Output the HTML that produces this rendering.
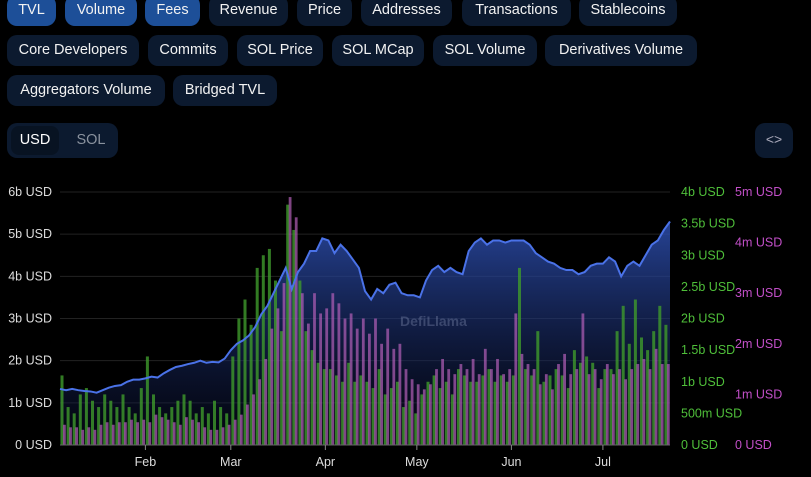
<!DOCTYPE html>
<html><head><meta charset="utf-8"><style>
body{margin:0;background:#000;width:811px;height:477px;overflow:hidden;font-family:"Liberation Sans",sans-serif;position:relative}
.b{position:absolute;height:31px;border-radius:10px;background:#0c1a2f;color:#f2f2f2;font-size:14.5px;line-height:31px;text-align:center;box-sizing:border-box}
.a{background:#1d4f98}
svg{position:absolute;left:0;top:0}
</style></head><body>
<div class="b a" style="left:7px;top:-5px;width:49px">TVL</div>
<div class="b a" style="left:65px;top:-5px;width:72px">Volume</div>
<div class="b a" style="left:145px;top:-5px;width:55px">Fees</div>
<div class="b" style="left:209px;top:-5px;width:79px">Revenue</div>
<div class="b" style="left:297px;top:-5px;width:55px">Price</div>
<div class="b" style="left:361px;top:-5px;width:91px">Addresses</div>
<div class="b" style="left:462px;top:-5px;width:109px">Transactions</div>
<div class="b" style="left:579px;top:-5px;width:98px">Stablecoins</div>
<div class="b" style="left:7px;top:35px;width:132px">Core Developers</div>
<div class="b" style="left:148px;top:35px;width:80px">Commits</div>
<div class="b" style="left:237px;top:35px;width:86px">SOL Price</div>
<div class="b" style="left:332px;top:35px;width:92px">SOL MCap</div>
<div class="b" style="left:433px;top:35px;width:104px">SOL Volume</div>
<div class="b" style="left:545px;top:35px;width:152px">Derivatives Volume</div>
<div class="b" style="left:7px;top:75px;width:158px">Aggregators Volume</div>
<div class="b" style="left:173px;top:75px;width:104px">Bridged TVL</div>
<div style="position:absolute;left:7px;top:123px;width:111px;height:35px;border-radius:10px;background:#0c1a2f">
<div style="position:absolute;left:4px;top:3px;width:48px;height:29px;border-radius:8px;background:#081322;color:#fff;font-size:14.5px;line-height:29px;text-align:center">USD</div>
<div style="position:absolute;left:60px;top:3px;width:48px;height:29px;color:#8a929e;font-size:14.5px;line-height:29px;text-align:center">SOL</div>
</div>
<div class="b" style="left:755px;top:123px;width:38px;height:35px;line-height:33px;color:#aab;font-size:14px">&lt;&gt;</div>
<svg id="c" width="811" height="477"></svg>
<script>
const months=["Feb","Mar","Apr","May","Jun","Jul"];
const monthDay=[28,56,87,117,148,178];
const leftTicks=[0,1,2,3,4,5,6];
const greenTicks=[0,0.5,1,1.5,2,2.5,3,3.5,4];
const greenLabels=["0 USD","500m USD","1b USD","1.5b USD","2b USD","2.5b USD","3b USD","3.5b USD","4b USD"];
const pinkTicks=[0,1,2,3,4,5];
const tvl=[1.33,1.30,1.33,1.30,1.28,1.27,1.24,1.30,1.36,1.40,1.42,1.50,1.55,1.55,1.58,1.62,1.60,1.70,1.78,1.85,1.88,1.92,1.95,2.00,1.95,1.97,1.96,2.05,2.25,2.40,2.48,2.60,2.80,3.10,3.30,3.60,3.90,4.20,3.70,4.10,4.30,4.60,4.60,4.90,4.85,4.55,4.75,4.60,4.40,4.20,3.65,3.45,3.70,3.60,3.80,3.85,3.60,3.55,3.55,3.50,3.90,4.15,4.25,4.10,4.20,4.10,4.05,4.60,4.80,4.90,4.75,4.85,4.85,4.80,4.85,4.85,4.85,4.75,4.55,4.45,4.35,4.30,4.20,4.15,4.15,4.05,4.10,4.25,4.30,4.30,4.45,4.35,4.00,4.25,4.35,4.25,4.50,4.75,4.85,5.10,5.30];
const volume=[1.1,0.6,0.5,0.8,0.9,0.7,0.6,0.8,0.7,0.6,0.8,0.6,0.5,0.9,1.4,0.8,0.6,0.5,0.6,0.7,0.8,0.7,0.5,0.6,0.5,0.7,0.6,0.5,1.4,2.0,2.3,1.9,2.8,3.0,3.1,2.6,1.8,3.8,3.4,2.6,1.8,1.5,1.3,1.2,1.2,1.1,1.0,1.3,1.0,1.1,1.0,0.9,1.2,0.8,0.9,1.0,0.6,0.7,0.5,0.8,1.0,1.1,0.9,1.0,0.8,1.2,1.1,1.0,1.0,1.1,1.2,1.0,1.1,1.0,1.1,2.8,1.2,1.1,1.8,1.0,1.1,1.2,1.1,0.9,1.5,1.3,1.4,1.3,0.9,1.2,1.2,1.8,2.2,1.6,2.3,1.7,1.5,1.8,2.2,1.9];
const fees=[0.4,0.35,0.35,0.3,0.35,0.3,0.4,0.45,0.4,0.45,0.45,0.5,0.45,0.5,0.45,0.6,0.55,0.5,0.45,0.4,0.55,0.5,0.45,0.35,0.3,0.3,0.35,0.4,0.5,0.6,0.8,1.0,1.3,1.7,2.3,2.7,3.2,4.9,4.5,3.0,2.4,3.0,2.6,2.7,3.0,2.8,2.5,2.6,2.3,2.5,2.2,2.5,2.0,2.3,1.9,2.0,1.5,1.3,1.2,1.1,1.2,1.5,1.7,1.5,1.4,1.6,1.5,1.7,1.4,1.9,1.5,1.7,1.4,1.5,2.6,1.8,1.6,1.5,1.2,1.4,1.1,1.6,1.8,1.4,1.5,2.6,1.4,1.5,1.3,1.6,1.4,1.5,1.3,1.5,1.6,1.7,1.5,1.9,1.6,1.6];
const X0=60,X1=670,Y0=445,Y1=192,DAYS=200;
const xDay=d=>X0+(X1-X0)*d/DAYS;
const xIdx=i=>xDay(i*2);
const yL=v=>Y0-(Y0-Y1)*v/6;
const yG=v=>Y0-(Y0-Y1)*v/4;
const yP=v=>Y0-(Y0-Y1)*v/5;
const svg=document.getElementById('c');const NS='http://www.w3.org/2000/svg';
function mk(t,a,p){const e=document.createElementNS(NS,t);for(const k in a)e.setAttribute(k,a[k]);(p||svg).appendChild(e);return e;}
svg.innerHTML='<defs><linearGradient id="g" x1="0" y1="0" x2="0" y2="1"><stop offset="0" stop-color="#2d4fb0" stop-opacity="0.85"/><stop offset="1" stop-color="#0a1030" stop-opacity="0.3"/></linearGradient></defs>';
leftTicks.forEach(v=>{
 const l=mk('line',{x1:X0,x2:X1,y1:yL(v),y2:yL(v),stroke:'#222',"stroke-width":1});
 
 const t=mk('text',{x:52,y:yL(v)+4,"text-anchor":"end",fill:'#ddd',"font-size":12.5,"font-family":"Liberation Sans"});
 t.textContent=v+(v?'b':'')+' USD';
 
});
greenTicks.forEach((v,i)=>{
 const t=mk('text',{x:681,y:yG(v)+4,fill:'#4fbf3a',"font-size":12.5,"font-family":"Liberation Sans"});
 t.textContent=greenLabels[i];
 
});
pinkTicks.forEach(v=>{
 const t=mk('text',{x:735,y:yP(v)+4,fill:'#c24fc8',"font-size":12.5,"font-family":"Liberation Sans"});
 t.textContent=v+(v?'m':'')+' USD';
 
});
let d='M'+xIdx(0)+','+Y0;tvl.forEach((v,i)=>d+=' L'+xIdx(i)+','+yL(v));d+=' L'+xIdx(tvl.length-1)+','+Y0+'Z';
const area=mk('path',{d:d,fill:'url(#g)'});

const wm=mk('text',{x:400,y:326,fill:'#8a96b8',"fill-opacity":0.35,"font-size":14,"font-weight":"bold","font-family":"Liberation Sans"});
wm.textContent='DefiLlama';
volume.forEach((v,i)=>{
 const x=xIdx(i)+0.5;
 const r=mk('rect',{x:x,y:yG(v),width:3,height:Y0-yG(v),fill:'#3f9a2c',"fill-opacity":0.8});
 
});
fees.forEach((v,i)=>{
 const x=xIdx(i)+3;
 const r=mk('rect',{x:x,y:yP(v),width:2.8,height:Y0-yP(v),fill:'#b35fb8',"fill-opacity":0.7});
 
});
let ld='';tvl.forEach((v,i)=>ld+=(i?' L':'M')+xIdx(i)+','+yL(v));
const line=mk('path',{d:ld,fill:'none',stroke:'#4a72e8',"stroke-width":2});

const ax=mk('line',{x1:X0,x2:X1,y1:Y0,y2:Y0,stroke:'#666'});

months.forEach((m,i)=>{
 const x=xDay(monthDay[i]);
 const tk=mk('line',{x1:x,x2:x,y1:Y0,y2:Y0+5,stroke:'#888'});
 
 const t=mk('text',{x:x,y:466,"text-anchor":"middle",fill:'#ddd',"font-size":12.5,"font-family":"Liberation Sans"});
 t.textContent=m;
});
</script>
</body></html>
